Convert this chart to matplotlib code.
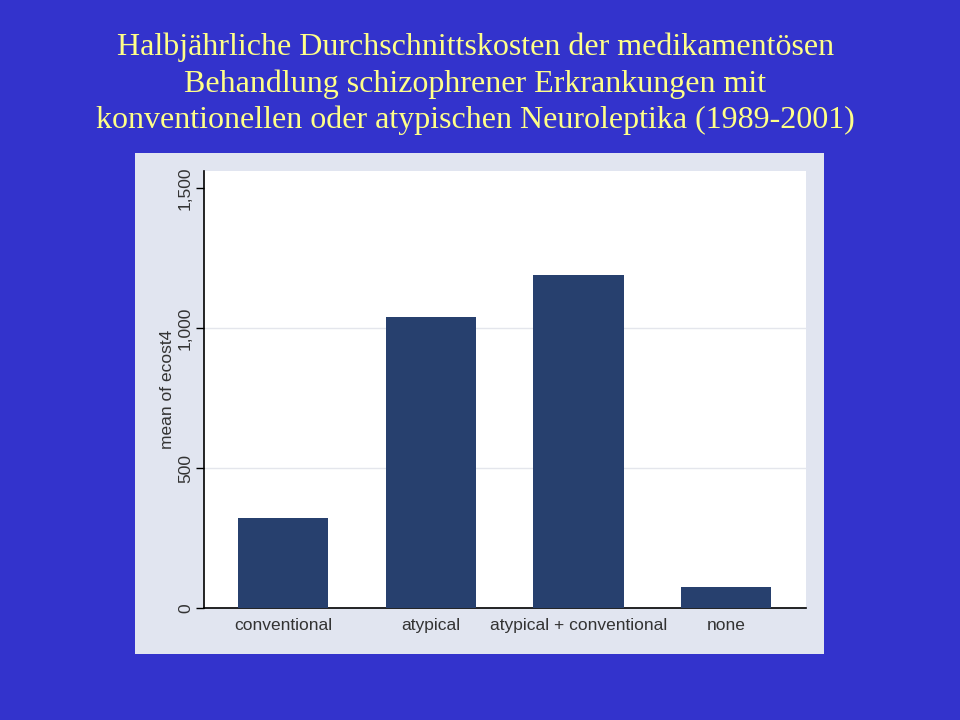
import matplotlib.pyplot as plt
from matplotlib.patches import Rectangle

# data
categories = ['conventional', 'atypical', 'atypical + conventional', 'none']
mean_cost = [321, 1039, 1189, 75]
yticks = [0, 500, 1000, 1500]
ytick_labels = ['0', '500', '1,000', '1,500']

title = ('Halbjährliche Durchschnittskosten der medikamentösen\n'
         'Behandlung schizophrener Erkrankungen mit\n'
         'konventionellen oder atypischen Neuroleptika (1989-2001)')

fig = plt.figure(figsize=(9.6, 7.2), dpi=100)
fig.patch.set_facecolor('#3333CC')

# light panel behind the graph
panel = Rectangle((135 / 960, 66 / 720), 689 / 960, 501 / 720,
                  transform=fig.transFigure, facecolor='#E1E5F0',
                  edgecolor='none', zorder=-1)
fig.add_artist(panel)

fig.text(0.495, 1 - 33 / 720, title, ha='center', va='top',
         color='#FFFF88', fontsize=23, family='Liberation Serif',
         linespacing=1.29)

ax = fig.add_axes([204 / 960, 112 / 720, 602 / 960, 437 / 720])
ax.set_facecolor('white')

x = list(range(len(categories)))
ax.bar(x, mean_cost, width=0.61, color='#27406E', zorder=3)

ax.set_xlim(-0.535, 3.54)
ax.set_ylim(0, 1561)
ax.set_xticks(x)
ax.set_xticklabels(categories, fontsize=12.5, color='#333333',
                   family='Liberation Sans')
ax.tick_params(axis='x', length=0, pad=7)

ax.set_yticks(yticks)
ax.set_yticklabels(ytick_labels, rotation=90, va='center',
                   fontsize=12.5, color='#333333', family='Liberation Sans')
ax.tick_params(axis='y', length=6, width=1, color='black', pad=2,
               direction='out')

ax.yaxis.grid(True, color='#E4E6EC', linewidth=1, zorder=0)
ax.get_ygridlines()[-1].set_visible(False)
ax.set_axisbelow(True)

for side in ['top', 'right']:
    ax.spines[side].set_visible(False)
for side in ['left', 'bottom']:
    ax.spines[side].set_color('black')
    ax.spines[side].set_linewidth(1.2)

ax.set_ylabel('mean of ecost4', fontsize=12.5, color='#333333',
              family='Liberation Sans', labelpad=2)

fig.savefig('out.png', dpi=100, facecolor=fig.get_facecolor())
